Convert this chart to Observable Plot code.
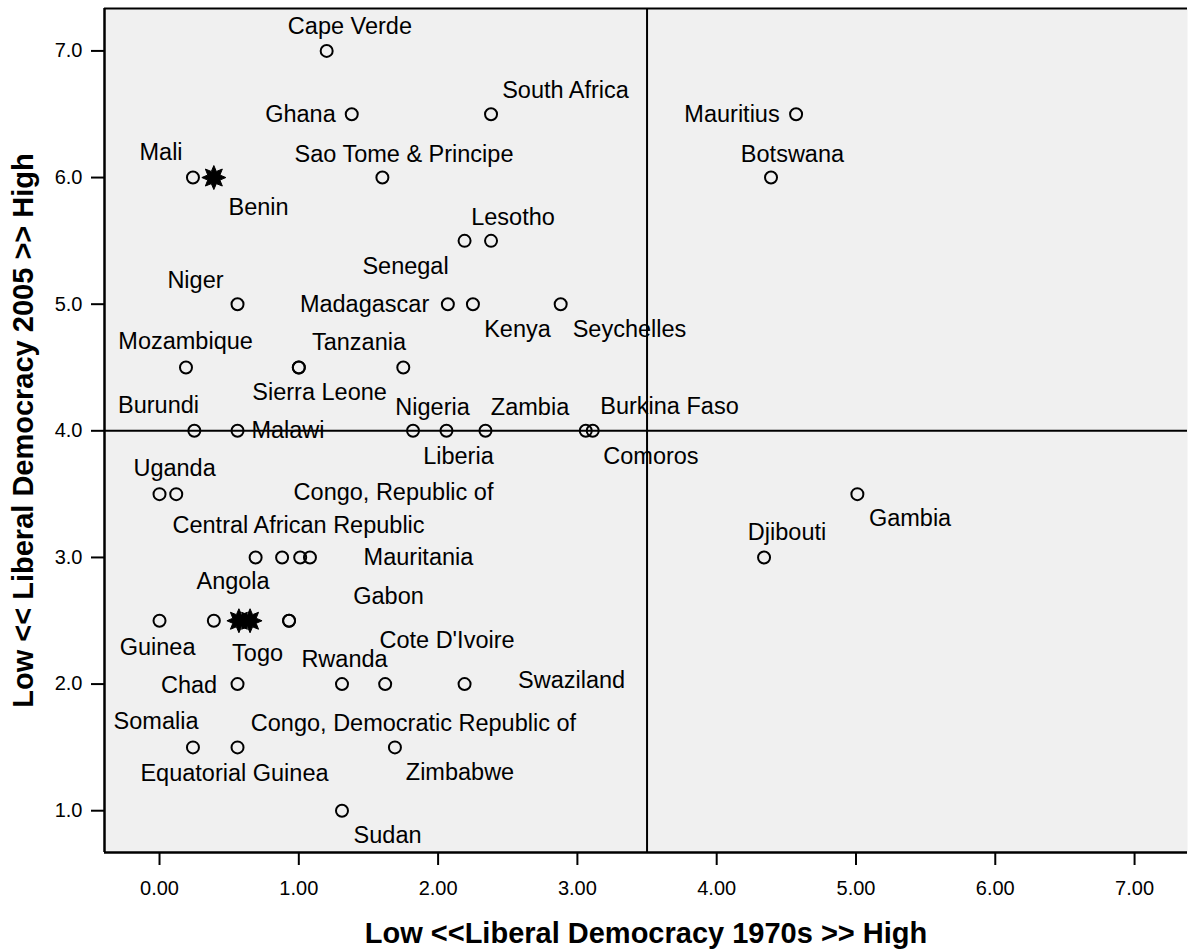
<!DOCTYPE html>
<html>
<head>
<meta charset="utf-8">
<script src="https://cdn.jsdelivr.net/npm/d3@7"></script>
<script src="https://cdn.jsdelivr.net/npm/@observablehq/plot@0.6"></script>
<style>
  body { margin: 0; background: #ffffff; }
  svg { display: block; }
</style>
</head>
<body>
<div id="chart"></div>
<script>
// ---- Data ----
// Circle markers: Liberal Democracy 1970s (x) vs 2005 (y)
const circleX = [1.20, 1.38, 2.38, 4.57, 4.39, 0.24, 1.60, 2.19, 2.38, 0.56, 2.07, 2.25, 2.88,
                 0.19, 1.00, 1.00, 1.75, 0.25, 0.56, 1.82, 2.06, 2.34, 3.06, 3.11,
                 0.00, 0.12, 5.01, 4.34, 0.69, 0.88, 1.01, 1.08,
                 0.00, 0.39, 0.93, 0.93, 0.56, 1.31, 1.62, 2.19, 0.24, 0.56, 1.69, 1.31];
const circleY = [7.0, 6.5, 6.5, 6.5, 6.0, 6.0, 6.0, 5.5, 5.5, 5.0, 5.0, 5.0, 5.0,
                 4.5, 4.5, 4.5, 4.5, 4.0, 4.0, 4.0, 4.0, 4.0, 4.0, 4.0,
                 3.5, 3.5, 3.5, 3.0, 3.0, 3.0, 3.0, 3.0,
                 2.5, 2.5, 2.5, 2.5, 2.0, 2.0, 2.0, 2.0, 1.5, 1.5, 1.5, 1.0];
// Star markers (Benin, Togo)
const starX = [0.39, 0.57, 0.65];
const starY = [6.0, 2.5, 2.5];

// Country labels and their anchor points in data units
const labelText = ["Cape Verde", "South Africa", "Ghana", "Mali", "Sao Tome & Principe", "Benin",
  "Lesotho", "Mauritius", "Botswana", "Senegal", "Niger", "Madagascar", "Kenya", "Seychelles",
  "Mozambique", "Tanzania", "Sierra Leone", "Burundi", "Malawi", "Nigeria", "Zambia",
  "Burkina Faso", "Liberia", "Comoros", "Uganda", "Congo, Republic of", "Central African Republic",
  "Mauritania", "Gambia", "Djibouti", "Angola", "Gabon", "Guinea", "Togo", "Cote D'Ivoire",
  "Rwanda", "Swaziland", "Chad", "Somalia", "Congo, Democratic Republic of", "Equatorial Guinea",
  "Zimbabwe", "Sudan"];
const labelX = [1.367, 2.915, 1.012, 0.011, 1.755, 0.711,
  2.538, 4.110, 4.544, 1.766, 0.258, 1.472, 2.570, 3.374,
  0.187, 1.432, 1.149, -0.007, 0.922, 1.960, 2.660,
  3.661, 2.146, 3.528, 0.108, 1.680, 0.998,
  1.859, 5.388, 4.505, 0.528, 1.644, -0.014, 0.704, 2.064,
  1.328, 2.958, 0.212, -0.025, 1.823, 0.538,
  2.157, 1.637];
const labelY = [7.191, 6.689, 6.496, 6.196, 6.184, 5.761,
  5.686, 6.496, 6.184, 5.299, 5.188, 4.998, 4.801, 4.801,
  4.706, 4.698, 4.303, 4.200, 4.003, 4.185, 4.185,
  4.192, 3.797, 3.797, 3.702, 3.513, 3.252,
  2.999, 3.307, 3.197, 2.810, 2.691, 2.288, 2.241, 2.343,
  2.193, 2.027, 1.988, 1.703, 1.687, 1.292,
  1.300, 0.802];

const xTicks = [0, 1, 2, 3, 4, 5, 6, 7];
const yTicks = [1, 2, 3, 4, 5, 6, 7];
const xDomain = [-0.395, 7.38];
const yDomain = [0.67, 7.335];
const refX = [3.5];
const refY = [4.0];
const xTitle = "Low <<Liberal Democracy 1970s >> High";
const yTitle = "Low << Liberal Democracy 2005 >> High";

// ---- Build tables ----
const circles = circleX.map((x, i) => ({x, y: circleY[i]}));
const stars = starX.map((x, i) => ({x, y: starY[i]}));
const labels = labelText.map((t, i) => ({t, x: labelX[i], y: labelY[i]}));

// 8-point burst symbol
const burst = {
  draw(ctx, size) {
    const R = Math.sqrt(size / Math.PI);
    const r = R * 0.55;
    const n = 8;
    for (let i = 0; i < 2 * n; i++) {
      const a = i * Math.PI / n - Math.PI / 2;
      const rr = i % 2 ? r : R;
      const px = rr * Math.cos(a), py = rr * Math.sin(a);
      if (i === 0) ctx.moveTo(px, py); else ctx.lineTo(px, py);
    }
    ctx.closePath();
  }
};

const chart = Plot.plot({
  width: 1188,
  height: 950,
  marginLeft: 104,
  marginRight: 1,
  marginTop: 8,
  marginBottom: 98,
  style: {fontFamily: "'Liberation Sans', Arial, Helvetica, sans-serif", background: "#ffffff", color: "black"},
  x: {domain: xDomain},
  y: {domain: yDomain},
  marks: [
    Plot.frame({fill: "#f0f0f0", stroke: "none"}),
    Plot.ruleX(refX, {stroke: "black", strokeWidth: 2}),
    Plot.ruleY(refY, {stroke: "black", strokeWidth: 2}),
    Plot.ruleY([yDomain[1]], {stroke: "black", strokeWidth: 2}),
    Plot.ruleY([yDomain[0]], {stroke: "black", strokeWidth: 2.5}),
    Plot.ruleX([xDomain[0]], {stroke: "black", strokeWidth: 2.5}),
    Plot.axisX({ticks: xTicks, tickFormat: d => d.toFixed(2), tickSize: 13, tickPadding: 15,
      fontSize: 20, strokeWidth: 2, label: null, fill: "black", stroke: "black"}),
    Plot.axisY({ticks: yTicks, tickFormat: d => d.toFixed(1), tickSize: 13, tickPadding: 9,
      fontSize: 20, strokeWidth: 2, label: null, fill: "black", stroke: "black"}),
    Plot.dot(circles, {x: "x", y: "y", r: 6, stroke: "black", strokeWidth: 2, fill: "none"}),
    Plot.dot(stars, {x: "x", y: "y", r: 12, symbol: burst, fill: "black", stroke: "black", strokeWidth: 1}),
    Plot.text(labels, {x: "x", y: "y", text: "t", fontSize: 23.5, fill: "black"}),
    Plot.text([xTitle], {frameAnchor: "bottom", dy: 81, textAnchor: "middle", lineAnchor: "middle",
      text: d => d, fontSize: 29, fontWeight: "bold", fill: "black"}),
    Plot.text([yTitle], {frameAnchor: "left", dx: -81, rotate: -90, textAnchor: "middle", lineAnchor: "middle",
      text: d => d, fontSize: 29, fontWeight: "bold", fill: "black"})
  ]
});
document.getElementById("chart").appendChild(chart);
</script>
</body>
</html>
